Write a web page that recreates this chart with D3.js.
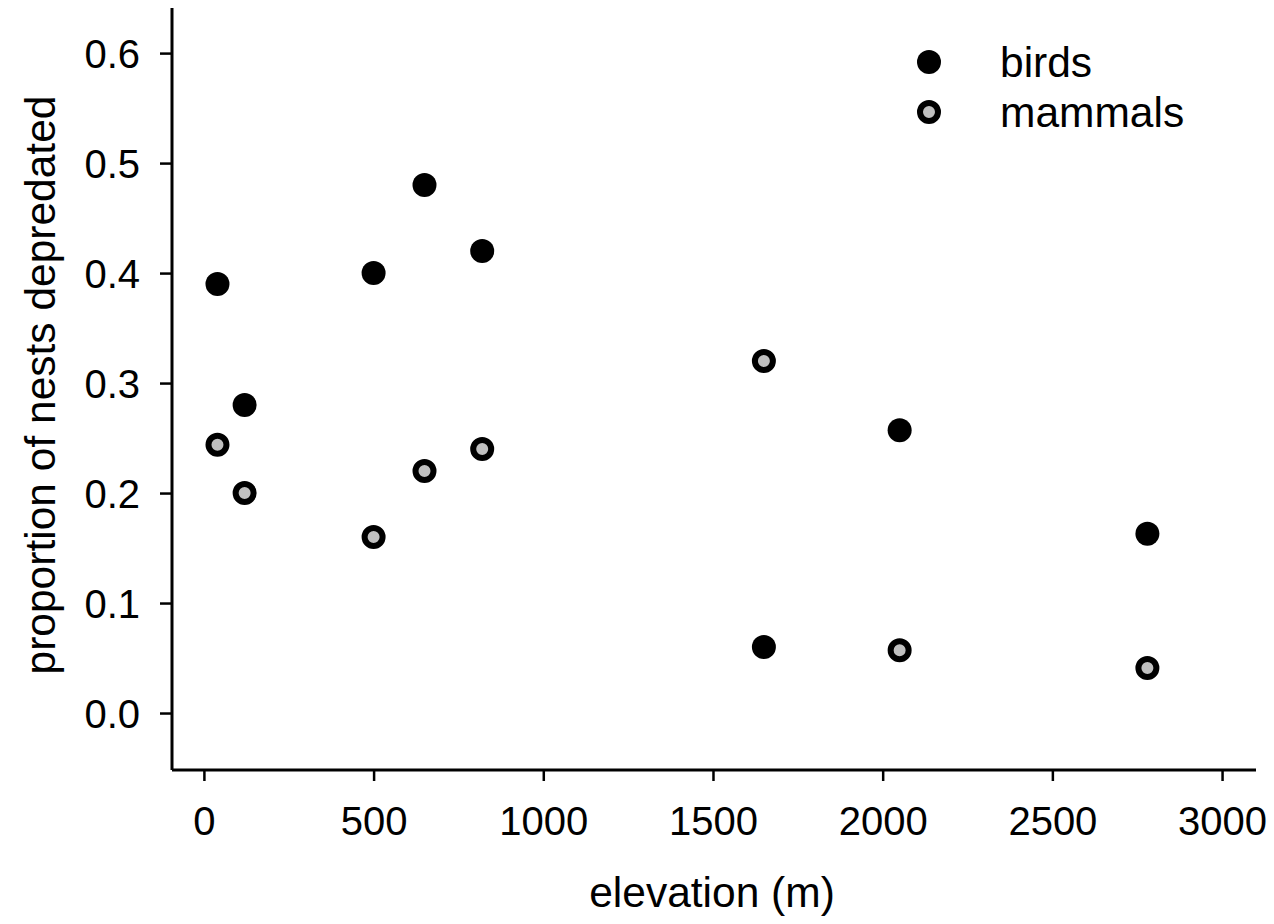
<!DOCTYPE html>
<html>
<head>
<meta charset="utf-8">
<script src="https://cdn.jsdelivr.net/npm/d3@7"></script>
<style>
  html, body { margin: 0; padding: 0; background: #fff; }
  svg { display: block; font-family: "Liberation Sans", Arial, Helvetica, sans-serif; }
</style>
</head>
<body>
<svg id="chart" width="1274" height="924"></svg>
<script>
// Elevation of each study site (m)
const elevation = [40, 120, 500, 650, 820, 1650, 2050, 2780];
// Proportion of nests depredated by each predator group
const birds   = [0.39, 0.28, 0.40, 0.48, 0.42, 0.06, 0.257, 0.163];
const mammals = [0.244, 0.20, 0.16, 0.22, 0.24, 0.32, 0.057, 0.041];

const xTicks = [0, 500, 1000, 1500, 2000, 2500, 3000];
const yTicks = [0, 0.1, 0.2, 0.3, 0.4, 0.5, 0.6];

const seriesNames = ["birds", "mammals"];

const svg = d3.select("#chart");
const tickFont = 40;
const titleFont = 42.5;

const x = d3.scaleLinear().domain([-94, 3100]).range([172, 1256]);
const y = d3.scaleLinear().domain([-0.0518, 0.641]).range([770, 8]);

// Axes
const xAxis = d3.axisBottom(x).tickValues(xTicks).tickSize(11).tickPadding(26)
  .tickFormat(d3.format("d"));
const yAxis = d3.axisLeft(y).tickValues(yTicks).tickSize(12).tickPadding(20)
  .tickFormat(d3.format(".1f"));

const gx = svg.append("g").attr("transform", "translate(0,770)").call(xAxis);
const gy = svg.append("g").attr("transform", "translate(172,0)").call(yAxis);

[gx, gy].forEach(g => {
  g.select(".domain").attr("stroke", "#000").attr("stroke-width", 3);
  g.selectAll(".tick line").attr("stroke", "#000").attr("stroke-width", 2.5);
  g.selectAll(".tick text").attr("fill", "#000")
    .style("font-size", tickFont + "px")
    .style("font-family", "'Liberation Sans', Arial, Helvetica, sans-serif");
});
gx.select(".domain").attr("d", `M172,0H1256`);
gy.select(".domain").attr("d", `M0,8V770`);
gy.selectAll(".tick text").attr("dy", "0.36em");

// Axis titles
svg.append("text")
  .attr("x", 712).attr("y", 907)
  .attr("text-anchor", "middle")
  .style("font-size", titleFont + "px")
  .text("elevation (m)");

svg.append("text")
  .attr("transform", "translate(55,385) rotate(-90)")
  .attr("text-anchor", "middle")
  .style("font-size", titleFont + "px")
  .text("proportion of nests depredated");

// Points
const birdPts = elevation.map((e, i) => ({ e, v: birds[i] }));
const mammalPts = elevation.map((e, i) => ({ e, v: mammals[i] }));

svg.append("g").selectAll("circle").data(birdPts).join("circle")
  .attr("cx", d => x(d.e)).attr("cy", d => y(d.v))
  .attr("r", 12).attr("fill", "#000");

svg.append("g").selectAll("circle").data(mammalPts).join("circle")
  .attr("cx", d => x(d.e)).attr("cy", d => y(d.v))
  .attr("r", 9).attr("fill", "#c0c0c0")
  .attr("stroke", "#000").attr("stroke-width", 6);

// Legend
const legend = svg.append("g");
seriesNames.forEach((name, i) => {
  const cy = 62 + i * 50;
  if (i === 0) {
    legend.append("circle").attr("cx", 929).attr("cy", cy).attr("r", 12).attr("fill", "#000");
  } else {
    legend.append("circle").attr("cx", 929).attr("cy", cy).attr("r", 9)
      .attr("fill", "#c0c0c0").attr("stroke", "#000").attr("stroke-width", 6);
  }
  legend.append("text")
    .attr("x", 1000).attr("y", cy + 15)
    .style("font-size", titleFont + "px")
    .text(name);
});
</script>
</body>
</html>
